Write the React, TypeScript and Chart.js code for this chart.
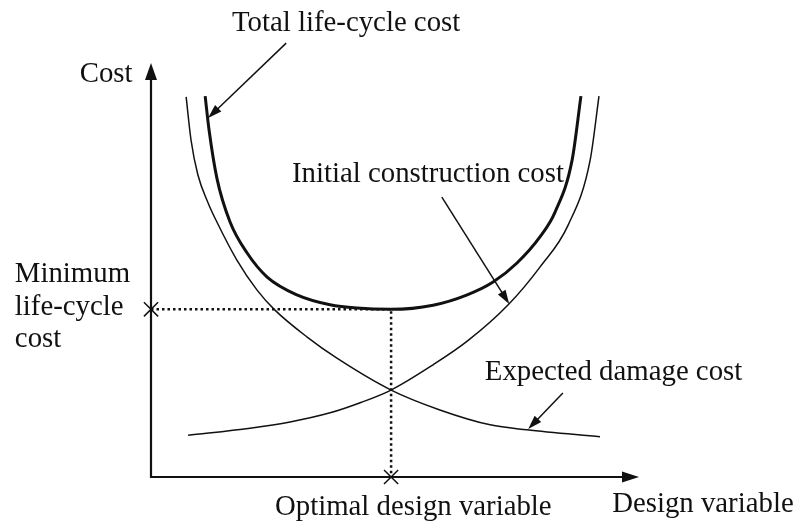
import React, { useEffect, useRef } from "react";
import { Chart, registerables } from "chart.js";

Chart.register(...registerables);

// Values in chart units (design variable on x, cost on y; both axes span 0..10)
const initialX = [0.76, 2.03, 2.85, 3.67, 4.3, 4.92, 5.78, 6.48, 7.32, 7.97, 8.55, 9.0, 9.18];
const initialY = [1.01, 1.18, 1.33, 1.55, 1.8, 2.1, 2.71, 3.28, 4.16, 5.07, 6.09, 7.66, 9.2];

const damageX = [0.72, 0.82, 0.96, 1.17, 1.35, 1.76, 2.17, 2.54, 3.2, 3.81, 4.92, 5.92, 6.95, 7.7, 9.2];
const damageY = [9.18, 8.14, 7.3, 6.62, 6.16, 5.24, 4.52, 4.03, 3.38, 2.87, 2.1, 1.62, 1.26, 1.14, 0.97];

const totalX = [1.11, 1.19, 1.35, 1.62, 1.97, 2.38, 2.99, 3.67, 4.22, 4.92, 5.78, 6.48, 7.01, 7.5, 7.97, 8.28, 8.63, 8.81];
const totalY = [9.2, 8.38, 7.22, 6.16, 5.41, 4.83, 4.4, 4.16, 4.08, 4.05, 4.15, 4.4, 4.71, 5.17, 5.8, 6.4, 7.66, 9.2];

const minCost = 4.05;
const optimalX = 4.92;

const FONT = '28.8px "Liberation Serif", "Times New Roman", serif';

// text annotations: [text, x, y] (left edge, baseline) in chart units
const labels: [string, number, number][] = [
  ["Total life-cycle cost", 1.66, 10.77],
  ["Cost", -1.46, 9.54],
  ["Initial construction cost", 2.89, 7.13],
  ["Minimum", -2.79, 4.71],
  ["life-cycle", -2.79, 3.91],
  ["cost", -2.79, 3.15],
  ["Expected damage cost", 6.84, 2.34],
  ["Optimal design variable", 2.54, -0.92],
  ["Design variable", 9.45, -0.85],
];

// pointer arrows: [fromX, fromY, toX, toY] in chart units
const pointers: [number, number, number, number][] = [
  [2.77, 10.48, 1.17, 8.67],
  [5.96, 6.76, 7.34, 4.18],
  [8.44, 2.03, 7.73, 1.16],
];

const toPts = (xs: number[], ys: number[]) => xs.map((x, i) => ({ x, y: ys[i] }));

function head(ctx: CanvasRenderingContext2D, x1: number, y1: number, x2: number, y2: number, L: number, W: number) {
  const a = Math.atan2(y2 - y1, x2 - x1);
  const c = Math.cos(a), s = Math.sin(a);
  const bx = x2 - L * c, by = y2 - L * s;
  ctx.beginPath();
  ctx.moveTo(x2, y2);
  ctx.lineTo(bx - (W / 2) * s, by + (W / 2) * c);
  ctx.lineTo(bx + (W / 2) * s, by - (W / 2) * c);
  ctx.closePath();
  ctx.fill();
}

function arrowLine(ctx: CanvasRenderingContext2D, x1: number, y1: number, x2: number, y2: number, L: number, W: number, lw: number) {
  const a = Math.atan2(y2 - y1, x2 - x1);
  ctx.lineWidth = lw;
  ctx.beginPath();
  ctx.moveTo(x1, y1);
  ctx.lineTo(x2 - L * 0.7 * Math.cos(a), y2 - L * 0.7 * Math.sin(a));
  ctx.stroke();
  head(ctx, x1, y1, x2, y2, L, W);
}

const annotPlugin = {
  id: "annot",
  beforeDatasetsDraw(chart: any) {
    const { ctx, scales } = chart;
    const xs = scales.x, ys = scales.y;
    const x0 = xs.getPixelForValue(0), y0 = ys.getPixelForValue(0);
    const xe = xs.getPixelForValue(10), ye = ys.getPixelForValue(10);
    ctx.save();
    ctx.strokeStyle = "#111";
    ctx.fillStyle = "#111";
    ctx.lineCap = "butt";
    arrowLine(ctx, x0, y0 + 1, x0, ye, 17, 12, 2.2);
    arrowLine(ctx, x0 - 1, y0, xe, y0, 17, 11, 2.2);
    ctx.restore();
  },
  afterDatasetsDraw(chart: any) {
    const { ctx, scales } = chart;
    const xs = scales.x, ys = scales.y;
    ctx.save();
    ctx.strokeStyle = "#111";
    ctx.fillStyle = "#111";
    for (const [a, b, c, d] of pointers) {
      arrowLine(ctx, xs.getPixelForValue(a), ys.getPixelForValue(b), xs.getPixelForValue(c), ys.getPixelForValue(d), 14, 9, 1.5);
    }
    ctx.font = FONT;
    ctx.textAlign = "left";
    ctx.textBaseline = "alphabetic";
    for (const [t, x, y] of labels) {
      ctx.fillText(t, xs.getPixelForValue(x), ys.getPixelForValue(y));
    }
    ctx.restore();
  },
};

export default function App() {
  const ref = useRef<HTMLCanvasElement | null>(null);
  useEffect(() => {
    if (!ref.current) return;
    const line = (data: any[], width: number) => ({
      data,
      borderColor: "#111",
      borderWidth: width,
      pointRadius: 0,
      fill: false,
      cubicInterpolationMode: "monotone" as const,
    });
    const chart = new Chart(ref.current, {
      type: "line",
      data: {
        datasets: [
          { label: "Initial construction cost", ...line(toPts(initialX, initialY), 1.5) },
          { label: "Expected damage cost", ...line(toPts(damageX, damageY), 1.5) },
          { label: "Total life-cycle cost", ...line(toPts(totalX, totalY), 3) },
          {
            label: "guides",
            data: [
              { x: 0, y: minCost },
              { x: optimalX, y: minCost },
              { x: optimalX, y: 0 },
            ],
            borderColor: "#111",
            borderWidth: 2.5,
            borderDash: [2.5, 3],
            pointRadius: 0,
            tension: 0,
            fill: false,
          },
          {
            label: "markers",
            data: [
              { x: 0, y: minCost },
              { x: optimalX, y: 0 },
            ],
            showLine: false,
            pointStyle: "crossRot",
            pointRadius: 10,
            borderColor: "#111",
            borderWidth: 1.5,
            clip: false as any,
          } as any,
        ],
      },
      options: {
        animation: false,
        responsive: true,
        maintainAspectRatio: false,
        layout: { padding: { left: 151, right: 162, top: 63, bottom: 52 } },
        plugins: { legend: { display: false }, tooltip: { enabled: false } },
        events: [],
        scales: {
          x: { type: "linear", min: 0, max: 10, display: false },
          y: { type: "linear", min: 0, max: 10, display: false },
        },
      },
      plugins: [annotPlugin],
    });
    return () => chart.destroy();
  }, []);
  return (
    <div style={{ position: "fixed", left: 0, top: 0, width: 801, height: 529, background: "#fff" }}>
      <canvas ref={ref} />
    </div>
  );
}
